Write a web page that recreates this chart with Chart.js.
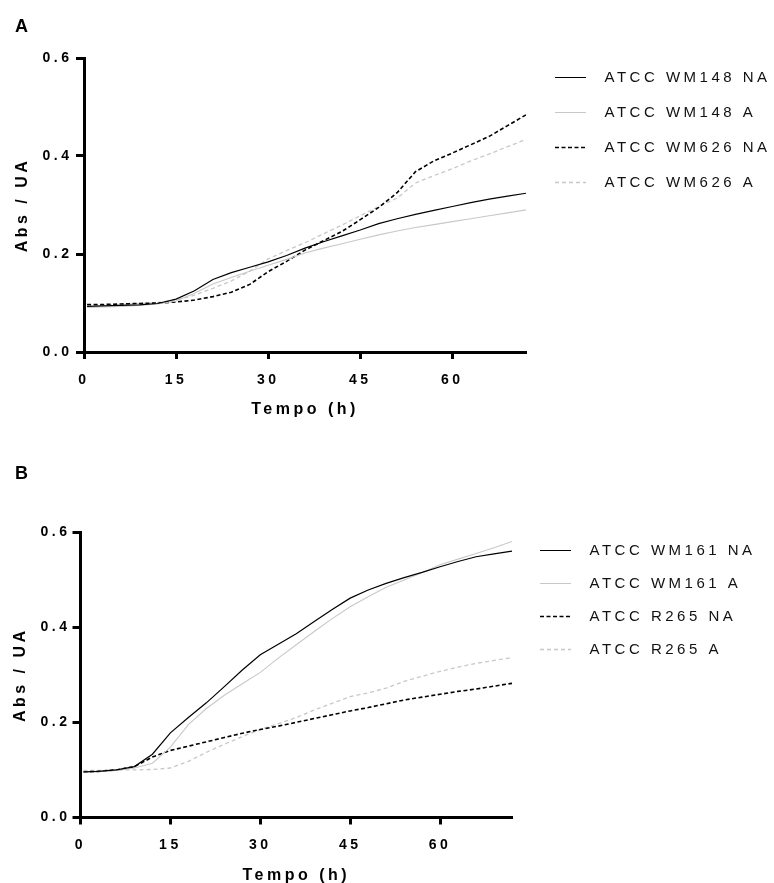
<!DOCTYPE html>
<html>
<head>
<meta charset="utf-8">
<script src="https://cdn.jsdelivr.net/npm/chart.js@4.4.1/dist/chart.umd.min.js"></script>
<style>
  html, body { margin: 0; padding: 0; width: 774px; height: 883px; overflow: hidden; background: #fff; }
  canvas { position: absolute; left: 0; }
  .tag { position: absolute; left: 15px; font: bold 18px "Liberation Sans", Arial, sans-serif; line-height: 18px; color: #000; }
</style>
</head>
<body>
<canvas id="chartA" width="820" height="440" style="top:0"></canvas>
<canvas id="chartB" width="820" height="460" style="top:440px"></canvas>
<div class="tag" style="top:17px">A</div>
<div class="tag" style="top:464px">B</div>

<script>
// sampling times (h)
const hours = [0.5, 3, 6, 9, 12, 15, 18, 21, 24, 27, 30, 33, 36, 39, 42, 45, 48, 51, 54, 57, 60, 63, 66, 69, 72];

// panel A
const labelsA = ["ATCC WM148 NA", "ATCC WM148 A", "ATCC WM626 NA", "ATCC WM626 A"];
const wm148NA = [.093, .094, .095, .096, .099, .108, .125, .148, .162, .173, .184, .197, .212, .225, .237, .249, .262, .272, .281, .289, .297, .305, .312, .318, .324];
const wm148A  = [.091, .092, .093, .095, .098, .104, .120, .139, .152, .165, .177, .189, .202, .212, .221, .230, .239, .247, .254, .260, .266, .272, .278, .284, .290];
const wm626NA = [.097, .097, .098, .099, .100, .102, .106, .113, .122, .138, .164, .185, .208, .227, .246, .270, .295, .325, .368, .390, .406, .423, .440, .462, .484];
const wm626A  = [.095, .096, .097, .099, .101, .106, .116, .130, .145, .165, .190, .207, .223, .241, .259, .278, .297, .314, .345, .360, .374, .390, .404, .419, .434];

// panel B
const labelsB = ["ATCC WM161 NA", "ATCC WM161 A", "ATCC R265 NA", "ATCC R265 A"];
const wm161NA = [.096, .097, .100, .107, .133, .178, .210, .241, .275, .310, .342, .364, .386, .412, .437, .461, .478, .492, .504, .515, .527, .538, .548, .554, .560];
const wm161A  = [.096, .097, .099, .104, .114, .148, .195, .229, .257, .281, .305, .335, .363, .391, .418, .443, .464, .484, .499, .515, .531, .543, .555, .567, .580];
const r265NA  = [.096, .097, .100, .107, .127, .141, .150, .159, .168, .177, .185, .192, .200, .208, .216, .224, .231, .239, .247, .253, .259, .265, .270, .276, .282];
const r265A   = [.099, .099, .100, .100, .101, .104, .118, .137, .154, .170, .185, .197, .210, .226, .240, .254, .262, .272, .286, .297, .307, .316, .324, .330, .336];

const xTickValues = [0, 15, 30, 45, 60];
const yTickValues = [0, 0.2, 0.4, 0.6];

const FONT = '"Liberation Sans", Arial, sans-serif';
const lineColors = ["#000", "#c8c8c8", "#000", "#c8c8c8"];
const lineWidths = [1.2, 1.1, 1.6, 1.3];
const lineDashes = [[], [], [4, 2.5], [4, 3]];

// the figure uses wide letter spacing everywhere
const spacing = {
  id: "spacing",
  beforeLayout(chart) { chart.ctx.letterSpacing = "3.5px"; },
  beforeDraw(chart) { chart.ctx.letterSpacing = "3.5px"; }
};

const hidden = (axis, position, size) => ({
  type: "linear", axis, position, display: true,
  grid: { display: false }, border: { display: false }, ticks: { display: false },
  afterFit: (s) => { if (axis === "x") s.height = size; else s.width = size; }
});

function makePanel(id, labels, series, g) {
  const datasets = series.map((vals, i) => ({
    label: labels[i],
    data: hours.map((h, j) => ({ x: h, y: vals[j] })),
    xAxisID: "x",
    yAxisID: "y",
    borderColor: lineColors[i],
    borderWidth: lineWidths[i],
    borderDash: lineDashes[i],
    pointRadius: 0,
    tension: 0,
    fill: false
  }));

  const chart = new Chart(document.getElementById(id), {
    type: "line",
    data: { datasets },
    options: {
      responsive: false,
      animation: false,
      devicePixelRatio: 1,
      events: [],
      layout: { padding: { top: g.padTop, left: 0, right: 0, bottom: 0 } },
      plugins: {
        tooltip: { enabled: false },
        legend: {
          position: "right",
          align: "start",
          maxWidth: 400,
          labels: {
            usePointStyle: true,
            pointStyle: "line",
            pointStyleWidth: 31,
            padding: g.legendPad,
            font: { family: FONT, size: 15 },
            generateLabels: (c) => c.data.datasets.map((ds, i) => ({
              text: "\u2002" + ds.label,
              strokeStyle: ds.borderColor,
              fillStyle: ds.borderColor,
              fontColor: "#111",
              lineWidth: ds.borderWidth,
              lineDash: ds.borderDash,
              pointStyle: "line",
              hidden: false,
              datasetIndex: i
            }))
          }
        }
      },
      scales: {
        x: {
          type: "linear",
          position: "bottom",
          min: 0,
          max: 72,
          afterBuildTicks: (s) => { s.ticks = xTickValues.map((v) => ({ value: v })); },
          afterFit: (s) => { s.height = g.height - g.bottom; },
          grid: { display: true, drawOnChartArea: false, tickLength: 7, tickWidth: 3, tickColor: "#000" },
          border: { display: true, color: "#000", width: 3 },
          ticks: { color: "#000", padding: g.xTickPad, maxRotation: 0, autoSkip: false,
                   font: { family: FONT, size: 14, weight: "bold" } },
          title: { display: true, text: "Tempo (h)", color: "#000",
                   font: { family: FONT, size: 16, weight: "bold" },
                   padding: { top: 0, bottom: g.xTitlePad } }
        },
        y: {
          type: "linear",
          position: "left",
          min: 0,
          max: 0.6,
          afterBuildTicks: (s) => { s.ticks = yTickValues.map((v) => ({ value: v })); },
          afterFit: (s) => { s.width = g.left; },
          grid: { display: true, drawOnChartArea: false, tickLength: 8, tickWidth: 3, tickColor: "#000" },
          border: { display: true, color: "#000", width: 3 },
          ticks: { color: "#000", padding: g.yTickPad, callback: (v) => v.toFixed(1),
                   font: { family: FONT, size: 14, weight: "bold" } },
          title: { display: true, text: "Abs / UA", color: "#000",
                   font: { family: FONT, size: 16, weight: "bold" },
                   padding: { top: g.yTitlePad, bottom: 0 } }
        },
        topGap: hidden("x", "top", g.topGap),
        rightGap: hidden("y", "right", g.gap)
      }
    },
    plugins: [spacing]
  });

  // second pass: pin the legend's left edge
  chart.options.layout.padding.right = g.width - g.legendLeft - chart.legend.width;
  chart.update("none");
  return chart;
}

makePanel("chartA", labelsA, [wm148NA, wm148A, wm626NA, wm626A], {
  width: 820, height: 440, left: 84, padTop: 50, topGap: 8, bottom: 352,
  legendLeft: 535, gap: 9, legendPad: 20,
  xTickPad: 12.6, yTickPad: 3.5, xTitlePad: 20.4, yTitlePad: 13.4
});

makePanel("chartB", labelsB, [wm161NA, wm161A, r265NA, r265A], {
  width: 820, height: 460, left: 80.5, padTop: 85, topGap: 7, bottom: 377.5,
  legendLeft: 522, gap: 10, legendPad: 18,
  xTickPad: 12.1, yTickPad: 2, xTitlePad: 14.4, yTitlePad: 11
});
</script>
</body>
</html>
